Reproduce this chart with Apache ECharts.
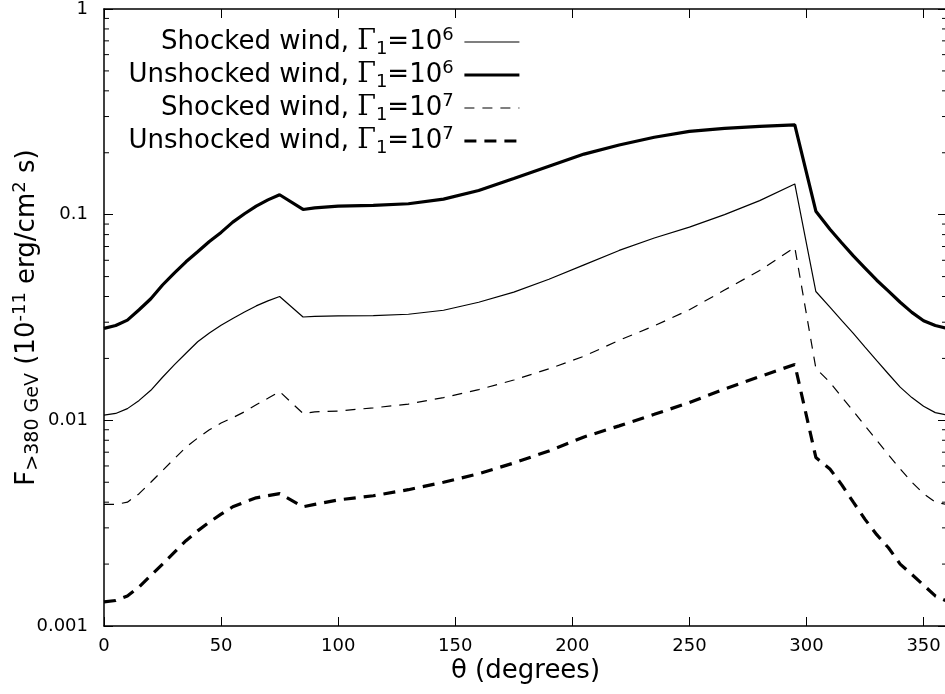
<!DOCTYPE html>
<html>
<head>
<meta charset="utf-8">
<script src="https://cdn.jsdelivr.net/npm/echarts@6/dist/echarts.min.js"></script>
<style>html,body{margin:0;padding:0;background:#fff;}#chart{width:945px;height:694px;}</style>
</head>
<body>
<div id="chart"></div>
<script>
// θ (degrees)
const theta = [0,5,10,15,20,25,30,35,40,45,50,55,60,65,70,75,85,90,100,115,130,145,160,175,190,205,220,235,250,265,280,295,304,310,315,320,325,330,335,340,345,350,355,360];
// Shocked wind, Γ1=10^6 (thin solid)
const shocked6 = [0.0106,0.0108,0.0114,0.0125,0.0140,0.0162,0.0186,0.0212,0.0241,0.0266,0.0290,0.0313,0.0336,0.0360,0.0381,0.0400,0.0318,0.0320,0.0322,0.0323,0.0328,0.0343,0.0375,0.0420,0.0485,0.057,0.067,0.077,0.087,0.100,0.117,0.141,0.0423,0.0355,0.0306,0.0265,0.0227,0.0195,0.0168,0.0145,0.0129,0.0117,0.0109,0.0106];
// Unshocked wind, Γ1=10^6 (thick solid)
const unshocked6 = [0.028,0.0289,0.0307,0.0345,0.039,0.0455,0.052,0.059,0.066,0.074,0.082,0.092,0.101,0.110,0.118,0.125,0.106,0.108,0.110,0.111,0.113,0.119,0.131,0.150,0.172,0.197,0.218,0.238,0.254,0.263,0.269,0.273,0.104,0.085,0.073,0.063,0.055,0.048,0.0425,0.0375,0.0335,0.0305,0.0289,0.028];
// Shocked wind, Γ1=10^7 (thin dashed)
const shocked7 = [0.0039,0.0039,0.0040,0.0044,0.0050,0.0057,0.0065,0.0074,0.0082,0.0090,0.0097,0.0103,0.0110,0.0119,0.0128,0.0138,0.0108,0.0110,0.0111,0.0115,0.0120,0.0129,0.0141,0.0157,0.0178,0.0205,0.0245,0.0288,0.0345,0.0430,0.0535,0.0693,0.0179,0.0153,0.0130,0.0111,0.0094,0.0080,0.0068,0.0058,0.0050,0.0044,0.0040,0.0039];
// Unshocked wind, Γ1=10^7 (thick dashed)
const unshocked7 = [0.00131,0.00133,0.0014,0.00155,0.00176,0.0020,0.00228,0.0026,0.0029,0.0032,0.0035,0.0038,0.0040,0.0042,0.0043,0.0044,0.0038,0.0039,0.0041,0.0043,0.0046,0.0050,0.0055,0.0062,0.0071,0.0083,0.0094,0.0107,0.0122,0.0142,0.0163,0.0187,0.0066,0.0058,0.00487,0.0040,0.0033,0.00278,0.0024,0.0020,0.00178,0.00158,0.0014,0.00132];

const seriesNames = ['Shocked wind, G6','Unshocked wind, G6','Shocked wind, G7','Unshocked wind, G7'];
const legendLabels = {
  'Shocked wind, G6': '{t|Shocked wind, }{g|Γ}{sub|1}{t|=10}{sup|6}{s| }',
  'Unshocked wind, G6': '{t|Unshocked wind, }{g|Γ}{sub|1}{t|=10}{sup|6}{s| }',
  'Shocked wind, G7': '{t|Shocked wind, }{g|Γ}{sub|1}{t|=10}{sup|7}{s| }',
  'Unshocked wind, G7': '{t|Unshocked wind, }{g|Γ}{sub|1}{t|=10}{sup|7}{s| }'
};
// minor tick values for log axis
const minorTicks = [];
[0.001,0.01,0.1].forEach(d => { for (let k = 2; k <= 9; k++) minorTicks.push(+(d*k).toPrecision(3)); });

const FONT = 'DejaVu Sans';
const pair = arr => theta.map((t,i) => [t, arr[i]]);
const styles = [
  {width: 1.2, type: 'solid'},
  {width: 3.2, type: 'solid'},
  {width: 1.2, type: [10, 8]},
  {width: 3.2, type: [12, 8]}
];

const richText = {
  t: {fontSize: 26, fontFamily: FONT, color: '#000', lineHeight: 32},
  g: {fontSize: 27, fontFamily: 'DejaVu Serif', color: '#000', lineHeight: 32},
  sub: {fontSize: 18, fontFamily: FONT, color: '#000', lineHeight: 18, verticalAlign: 'bottom'},
  sup: {fontSize: 18, fontFamily: FONT, color: '#000', lineHeight: 18, verticalAlign: 'top'},
  s: {fontSize: 18, fontFamily: FONT, lineHeight: 18}
};

const chart = echarts.init(document.getElementById('chart'), null, {renderer: 'canvas'});
const axisLineStyle = {color: '#000', width: 1.5};
const option = {
  animation: false,
  backgroundColor: '#fff',
  grid: {left: 104, right: -2, top: 9, bottom: 68, containLabel: false, outerBoundsMode: 'none'},
  legend: {
    orient: 'vertical', right: 424, top: 26, align: 'right', padding: 0,
    itemWidth: 55, itemHeight: 26, itemGap: 1, selectedMode: false,
    itemStyle: {opacity: 0},
    data: seriesNames.map((n, i) => ({name: n, lineStyle: {color: '#000', width: styles[i].width, type: styles[i].type}})),
    formatter: name => legendLabels[name],
    textStyle: {rich: richText, fontFamily: FONT, fontSize: 26, color: '#000'}
  },
  xAxis: [{
    type: 'value', min: 0, max: 360, interval: 50, position: 'bottom',
    name: 'θ (degrees)', nameLocation: 'middle', nameGap: 32, nameMoveOverlap: false,
    nameTextStyle: {fontFamily: FONT, fontSize: 26, color: '#000'},
    axisLine: {show: true, onZero: false, lineStyle: axisLineStyle},
    axisTick: {show: true, inside: true, length: 9, lineStyle: {color: '#000', width: 1}},
    axisLabel: {show: true, margin: 11, fontFamily: FONT, fontSize: 18, color: '#000', showMaxLabel: false},
    splitLine: {show: false}
  }, {
    type: 'value', min: 0, max: 360, interval: 50, position: 'top',
    axisLine: {show: true, onZero: false, lineStyle: axisLineStyle},
    axisTick: {show: true, inside: true, length: 9, lineStyle: {color: '#000', width: 1}},
    axisLabel: {show: false}, splitLine: {show: false}
  }],
  yAxis: [{
    type: 'log', logBase: 10, min: 0.001, max: 1, position: 'left',
    name: '{b|F}{sub|>380 GeV}{b| (10}{sup|-11}{b| erg/cm}{sup|2}{b| s)}',
    nameLocation: 'middle', nameRotate: 90, nameGap: 61, nameMoveOverlap: false,
    nameTextStyle: {rich: {
      b: {fontSize: 26, fontFamily: FONT, color: '#000', lineHeight: 32},
      sub: {fontSize: 19, fontFamily: FONT, color: '#000', lineHeight: 19, verticalAlign: 'bottom'},
      sup: {fontSize: 18, fontFamily: FONT, color: '#000', lineHeight: 18, verticalAlign: 'top'}
    }},
    axisLine: {show: true, onZero: false, lineStyle: axisLineStyle},
    axisTick: {show: true, inside: true, length: 9, lineStyle: {color: '#000', width: 1}},
    axisLabel: {show: true, margin: 16, fontFamily: FONT, fontSize: 18, color: '#000'},
    splitLine: {show: false}
  }, {
    type: 'log', logBase: 10, min: 0.001, max: 1, position: 'right',
    axisLine: {show: true, onZero: false, lineStyle: axisLineStyle},
    axisTick: {show: true, inside: true, length: 9, lineStyle: {color: '#000', width: 1}},
    axisLabel: {show: false}, splitLine: {show: false}
  }],
  series: [
    ...[shocked6, unshocked6, shocked7, unshocked7].map((arr, i) => ({
      name: seriesNames[i], type: 'line', data: pair(arr), symbol: 'none', showSymbol: false,
      lineStyle: {color: '#000', width: styles[i].width, type: styles[i].type}, itemStyle: {color: '#000'}
    })),
    {type: 'custom', silent: true, clip: false,
     data: minorTicks.map(v => [0, v]),
     renderItem: (params, api) => {
       const v = api.value(1);
       const pL = api.coord([0, v]);
       const pR = api.coord([360, v]);
       return {type: 'group', children: [
         {type: 'line', shape: {x1: pL[0], y1: pL[1], x2: pL[0] + 5, y2: pL[1]}, style: {stroke: '#000', lineWidth: 1}},
         {type: 'line', shape: {x1: pR[0] - 5, y1: pR[1], x2: pR[0], y2: pR[1]}, style: {stroke: '#000', lineWidth: 1}}
       ]};
     }}
  ]
};
chart.setOption(option);
</script>
</body>
</html>
